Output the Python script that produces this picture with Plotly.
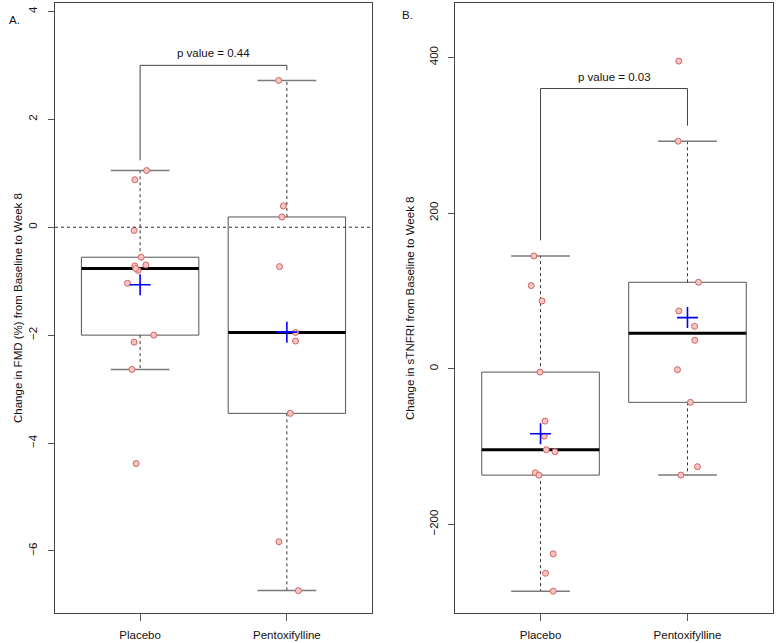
import math
import plotly.graph_objects as go

groups = ["Placebo", "Pentoxifylline"]

# Panel A: change in FMD (%)
fmd_placebo = [1.05, 0.88, -0.06, -0.556, -0.716, -0.70, -0.80, -0.765, -1.04, -2.0, -2.13, -2.635, -4.38]
fmd_placebo_jit = [0.044, -0.036, -0.041, 0.007, -0.036, 0.039, -0.014, -0.03, -0.086, 0.093, -0.041, -0.056, -0.027]
fmd_pentox = [2.72, 0.395, 0.19, -0.73, -1.95, -2.11, -3.45, -5.83, -6.735]
fmd_pentox_jit = [-0.056, -0.024, -0.034, -0.05, 0.059, 0.059, 0.023, -0.054, 0.078]

# Panel B: change in sTNFRI
tnf_placebo = [144.8, 106.7, 87.0, -4.4, -67.4, -86.7, -104.2, -106.8, -133.8, -136.8, -238.0, -262.9, -286.0]
tnf_placebo_jit = [-0.045, -0.063, 0.01, -0.004, 0.03, 0.025, 0.039, 0.098, -0.036, -0.011, 0.086, 0.034, 0.086]
tnf_pentox = [395.2, 292.3, 111.0, 74.1, 54.4, 36.4, -1.3, -43.3, -126.0, -136.8]
tnf_pentox_jit = [-0.059, -0.063, 0.075, -0.059, 0.048, 0.05, -0.068, 0.02, 0.068, -0.045]

p_values = ["0.44", "0.03"]

# styling / layout constants
FONT = "Liberation Sans, Arial, Helvetica, sans-serif"
FS = 11.5
BOX_HALF = 0.4
CAP_HALF = 0.2
FRAME = "#444444"


def fivenum(v):
    x = sorted(v)
    n = len(x)
    n4 = math.floor((n + 3) / 2) / 2
    d = [1, n4, (n + 1) / 2, n + 1 - n4, n]
    return [0.5 * (x[math.floor(k) - 1] + x[math.ceil(k) - 1]) for k in d]


def box_stats(v):
    _, q1, med, q3, _ = fivenum(v)
    iqr = q3 - q1
    lo = min(a for a in v if a >= q1 - 1.5 * iqr)
    hi = max(a for a in v if a <= q3 + 1.5 * iqr)
    return dict(lo=lo, q1=q1, med=med, q3=q3, hi=hi, mean=sum(v) / len(v))


fig = go.Figure()


def add_box(pos, vals, jit, xa, ya):
    s = box_stats(vals)
    common = dict(xaxis=xa, yaxis=ya, showlegend=False, hoverinfo="skip", mode="lines")
    fig.add_trace(go.Scatter(
        x=[pos - BOX_HALF, pos + BOX_HALF, pos + BOX_HALF, pos - BOX_HALF, pos - BOX_HALF],
        y=[s["q1"], s["q1"], s["q3"], s["q3"], s["q1"]],
        line=dict(color="#555555", width=1), **common))
    fig.add_trace(go.Scatter(x=[pos, pos, None, pos, pos],
                             y=[s["q3"], s["hi"], None, s["q1"], s["lo"]],
                             line=dict(color="#333333", width=1, dash="3px,3px"), **common))
    fig.add_trace(go.Scatter(x=[pos - CAP_HALF, pos + CAP_HALF, None, pos - CAP_HALF, pos + CAP_HALF],
                             y=[s["hi"], s["hi"], None, s["lo"], s["lo"]],
                             line=dict(color="#7a7a7a", width=1.5), **common))
    fig.add_trace(go.Scatter(x=[pos - BOX_HALF, pos + BOX_HALF], y=[s["med"], s["med"]],
                             line=dict(color="#000000", width=3), **common))
    fig.add_trace(go.Scatter(x=[pos + j for j in jit], y=vals, mode="markers",
                             marker=dict(symbol="circle", size=6, color="#f7c5c5",
                                         line=dict(color="#d0625f", width=1)),
                             xaxis=xa, yaxis=ya, showlegend=False, hoverinfo="skip"))
    fig.add_trace(go.Scatter(x=[pos], y=[s["mean"]], mode="markers",
                             marker=dict(symbol="cross-thin", size=15,
                                         line=dict(color="#0000ff", width=1.6)),
                             xaxis=xa, yaxis=ya, showlegend=False, hoverinfo="skip"))
    return s


def add_bracket(s1, s2, top, gap, xa, ya, ptxt):
    fig.add_trace(go.Scatter(x=[1, 1, 2, 2], y=[s1["hi"] + gap, top, top, s2["hi"] + gap],
                             mode="lines", line=dict(color=FRAME, width=1),
                             xaxis=xa, yaxis=ya, showlegend=False, hoverinfo="skip"))
    fig.add_annotation(x=1.5, y=top, xref=xa, yref=ya, yshift=12, yanchor="middle",
                       text=f"p value = {ptxt}", showarrow=False,
                       font=dict(family=FONT, size=FS, color="#111111"))


# Panel A
fig.add_shape(type="line", xref="x domain", yref="y", x0=0, x1=1, y0=0, y1=0,
              line=dict(color="#333333", width=1, dash="3px,3px"))
sA1 = add_box(1, fmd_placebo, fmd_placebo_jit, "x", "y")
sA2 = add_box(2, fmd_pentox, fmd_pentox_jit, "x", "y")
add_bracket(sA1, sA2, 3.0, 0.19, "x", "y", p_values[0])

# Panel B
sB1 = add_box(1, tnf_placebo, tnf_placebo_jit, "x2", "y2")
sB2 = add_box(2, tnf_pentox, tnf_pentox_jit, "x2", "y2")
add_bracket(sB1, sB2, 360, 20, "x2", "y2", p_values[1])

W, H = 776, 643
ydom = [(643 - 613) / H, (643 - 3.3) / H]

xcommon = dict(range=[0.42, 2.58], tickvals=[1, 2], ticktext=groups, showline=True, mirror=True,
               linecolor=FRAME, linewidth=1, ticks="outside", ticklen=7, tickcolor="#555555",
               showgrid=False, zeroline=False, tickfont=dict(family=FONT, size=FS, color="#111111"),
               ticklabelstandoff=4)
ycommon = dict(showline=True, mirror=True, linecolor=FRAME, linewidth=1, ticks="outside",
               ticklen=6, tickcolor="#555555", showgrid=False, zeroline=False, tickangle=-90,
               tickfont=dict(family=FONT, size=FS, color="#111111"), ticklabelstandoff=6)

fig.update_layout(
    width=W, height=H,
    margin=dict(l=0, r=0, t=0, b=0),
    paper_bgcolor="white", plot_bgcolor="white",
    xaxis=dict(domain=[55 / W, 372 / W], anchor="y", **xcommon),
    yaxis=dict(domain=ydom, anchor="x", range=[-7.15, 4.15], tickvals=[-6, -4, -2, 0, 2, 4], **ycommon),
    xaxis2=dict(domain=[455.3 / W, 772.7 / W], anchor="y2", **xcommon),
    yaxis2=dict(domain=ydom, anchor="x2", range=[-314, 469.5], tickvals=[-200, 0, 200, 400], **ycommon),
)

fig.add_annotation(x=10 / W, y=(643 - 308) / H, xref="paper", yref="paper", textangle=-90,
                   text="Change in FMD (%) from Baseline to Week 8", showarrow=False,
                   font=dict(family=FONT, size=FS, color="#111111"))
fig.add_annotation(x=410 / W, y=(643 - 308) / H, xref="paper", yref="paper", textangle=-90,
                   text="Change in sTNFRI from Baseline to Week 8", showarrow=False,
                   font=dict(family=FONT, size=FS, color="#111111"))
fig.add_annotation(x=7 / W, y=1 - 12.3 / H, xref="paper", yref="paper", text="A.",
                   showarrow=False, font=dict(family=FONT, size=FS, color="#111111"))
fig.add_annotation(x=407.5 / W, y=1 - 7.3 / H, xref="paper", yref="paper", text="B.",
                   showarrow=False, font=dict(family=FONT, size=FS, color="#111111"))

fig.write_html("out.html", config={"displayModeBar": False},
               post_script="document.body.style.margin='0';document.body.style.overflow='hidden';")
